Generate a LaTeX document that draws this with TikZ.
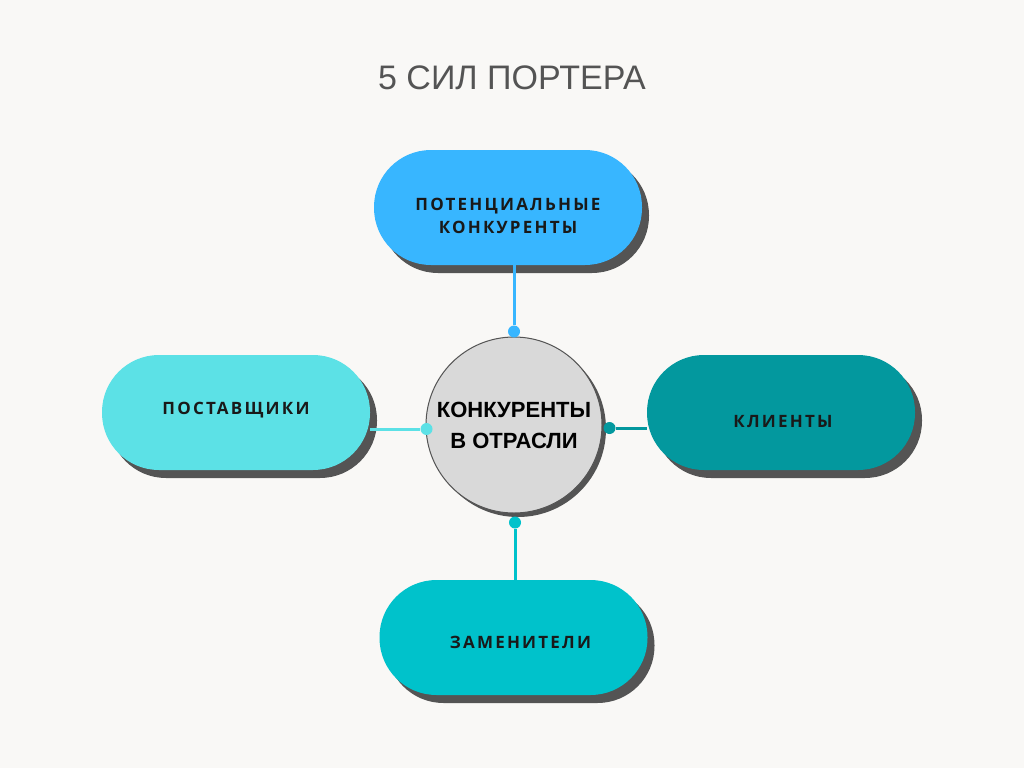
\documentclass[tikz,border=0pt]{standalone}
\usepackage{fontspec}
\setmainfont{Liberation Sans}
\newfontfamily\pillfont[LetterSpace=13]{Open Sans}
\usetikzlibrary{positioning,shadows}
\definecolor{bgcol}{HTML}{F9F8F6}
\definecolor{titlegray}{HTML}{545454}
\definecolor{shadowgray}{HTML}{545454}
\definecolor{skyblue}{HTML}{38B6FF}
\definecolor{lightcyan}{HTML}{5CE1E6}
\definecolor{darkteal}{HTML}{03989E}
\definecolor{midcyan}{HTML}{00C2CB}
\definecolor{coregray}{HTML}{D9D9D9}
\begin{document}
\begin{tikzpicture}[x=1pt, y=-1pt,
  pill/.style={rounded corners=57pt, minimum width=268pt, minimum height=115pt, inner sep=0pt,
    drop shadow={shadow xshift=7pt, shadow yshift=-8pt, opacity=1, fill=shadowgray}},
  pilltext/.style={align=center, inner sep=0pt, text=black!90, font=\pillfont\bfseries\fontsize{17}{23}\selectfont},
  core/.style={circle, draw=shadowgray, line width=1pt, fill=coregray, minimum size=176pt, align=center, inner sep=0pt,
    font=\bfseries\fontsize{22}{31}\selectfont,
    drop shadow={shadow xshift=4pt, shadow yshift=-4pt, opacity=1, fill=shadowgray}},
  dot/.style={circle, inner sep=0pt, minimum size=12pt},
  link/.style={line width=3pt}]
\fill[bgcol] (0,0) rectangle (1024,768);
\node[anchor=base, text=titlegray, font=\fontsize{34}{40}\selectfont] (title) at (512,89) {5 СИЛ ПОРТЕРА};

\node[core] (c) at (514,425) {КОНКУРЕНТЫ\\В ОТРАСЛИ};

\node[pill, fill=skyblue] (entrants) at (508,207.5) {};
\node[pill, fill=lightcyan] (suppliers) at (236,412.5) {};
\node[pill, fill=darkteal] (buyers) at (781,412.5) {};
\node[pill, fill=midcyan] (substitutes) at (513.5,637.5) {};

\node[pilltext] (tentrants) at ([yshift=-8pt]entrants.center) {ПОТЕНЦИАЛЬНЫЕ\\КОНКУРЕНТЫ};
\node[pilltext] (tsuppliers) at ([yshift=2pt]suppliers.center) {ПОСТАВЩИКИ};
\node[pilltext] (tbuyers) at ([xshift=2pt,yshift=-9pt]buyers.center) {КЛИЕНТЫ};
\node[pilltext] (tsubstitutes) at ([xshift=7pt,yshift=-5pt]substitutes.center) {ЗАМЕНИТЕЛИ};

% dots on the rim of the core
\node[dot, fill=skyblue] (dtop) at ([yshift=5pt]c.north) {};
\node[dot, fill=lightcyan] (dleft) at ([xshift=1pt,yshift=-4pt]c.west) {};
\node[dot, fill=darkteal] (dright) at ([xshift=7pt,yshift=-3pt]c.east) {};
\node[dot, fill=midcyan] (dbottom) at ([xshift=1pt,yshift=-9pt]c.south) {};

\draw[link, skyblue] (dtop) -- (dtop |- entrants.south);
\draw[link, lightcyan] (dleft) -- (dleft -| suppliers.east);
\draw[link, darkteal] (dright) -- (dright -| buyers.west);
\draw[link, midcyan] (dbottom) -- (dbottom |- substitutes.north);
\end{tikzpicture}
\end{document}
